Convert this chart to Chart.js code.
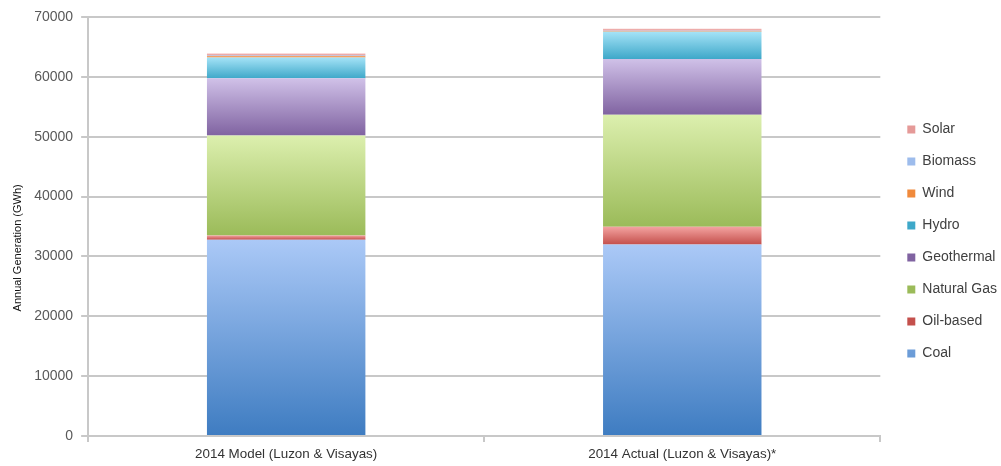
<!DOCTYPE html>
<html>
<head>
<meta charset="utf-8">
<script src="https://cdn.jsdelivr.net/npm/chart.js"></script>
<style>
  html, body { margin: 0; padding: 0; background: #fff; }
  #wrap { width: 1001px; height: 466px; }
</style>
</head>
<body>
<div id="wrap"><canvas id="chart" width="1001" height="466"></canvas></div>
<script>
const categories = ['2014 Model (Luzon & Visayas)', '2014 Actual (Luzon & Visayas)*'];
const coal = [32800, 32000];
const oilBased = [700, 2950];
const naturalGas = [16700, 18700];
const geothermal = [9550, 9350];
const hydro = [3500, 4550];
const wind = [250, 50];
const biomass = [50, 100];
const solar = [350, 350];
const yTicks = [0, 10000, 20000, 30000, 40000, 50000, 60000, 70000];

// top colour, bottom colour of each segment gradient
const shades = {
  Coal: ['#abc9f7', '#3e7cc1'],
  'Oil-based': ['#f4a3a1', '#c4504c'],
  'Natural Gas': ['#dcefae', '#9bbb59'],
  Geothermal: ['#d0c1e8', '#8063a1'],
  Hydro: ['#a5e3f7', '#3ea8c9'],
  Wind: ['#f9b07a', '#f08a3c'],
  Biomass: ['#b9d2f5', '#9dbcec'],
  Solar: ['#f3b9b7', '#e59a98'],
};

function gradientFill(name) {
  const [light, dark] = shades[name];
  return (ctx) => {
    const chart = ctx.chart;
    if (ctx.type !== 'data' || !chart.chartArea || !chart.scales.y) return dark;
    const sets = chart.data.datasets;
    let base = 0;
    for (let d = 0; d < ctx.datasetIndex; d++) base += sets[d].data[ctx.dataIndex] || 0;
    const top = base + (sets[ctx.datasetIndex].data[ctx.dataIndex] || 0);
    const y0 = chart.scales.y.getPixelForValue(top);
    const y1 = chart.scales.y.getPixelForValue(base);
    if (!isFinite(y0) || !isFinite(y1) || y1 - y0 < 0.5) return dark;
    const g = chart.ctx.createLinearGradient(0, y0, 0, y1);
    g.addColorStop(0, light);
    g.addColorStop(1, dark);
    return g;
  };
}

function series(label, data) {
  return {
    label,
    data,
    backgroundColor: gradientFill(label),
    borderWidth: 0,
    barPercentage: 0.4,
    categoryPercentage: 1,
  };
}

// leave a wider gap between the plot and the legend, like the original
const legendGap = {
  id: 'legendGap',
  beforeInit(chart) {
    const legend = chart.legend;
    const fit = legend.fit;
    legend.fit = function () {
      fit.call(this);
      this.width += 3;
    };
  },
  afterLayout(chart) {
    chart.legend.left += 9;
  },
};

new Chart(document.getElementById('chart'), {
  type: 'bar',
  data: {
    labels: categories,
    datasets: [
      series('Coal', coal),
      series('Oil-based', oilBased),
      series('Natural Gas', naturalGas),
      series('Geothermal', geothermal),
      series('Hydro', hydro),
      series('Wind', wind),
      series('Biomass', biomass),
      series('Solar', solar),
    ],
  },
  plugins: [legendGap],
  options: {
    responsive: false,
    animation: false,
    layout: { padding: { top: 17, right: 0, left: 7, bottom: 0 } },
    plugins: {
      tooltip: { enabled: false },
      legend: {
        position: 'right',
        reverse: true,
        labels: {
          boxWidth: 8,
          boxHeight: 8,
          padding: 18,
          color: '#404040',
          font: { family: 'Liberation Sans', size: 14 },
        },
      },
    },
    scales: {
      x: {
        stacked: true,
        offset: true,
        grid: {
          offset: true,
          drawOnChartArea: false,
          drawTicks: true,
          tickLength: 6,
          color: '#c8c8c8',
          lineWidth: 2,
        },
        border: { color: '#c8c8c8', width: 2 },
        ticks: {
          color: '#333',
          padding: 4,
          font: { family: 'Liberation Sans', size: 13.4 },
        },
      },
      y: {
        stacked: true,
        min: 0,
        max: 70000,
        afterBuildTicks: (axis) => { axis.ticks = yTicks.map((v) => ({ value: v })); },
        grid: { color: '#c8c8c8', lineWidth: 2, tickLength: 7 },
        border: { color: '#c8c8c8', width: 2 },
        ticks: {
          color: '#595959',
          padding: 8,
          font: { family: 'Liberation Sans', size: 14 },
          callback: (v) => String(v),
        },
        title: {
          display: true,
          text: 'Annual Generation (GWh)\u00a0\u00a0\u00a0\u00a0\u00a0\u00a0\u00a0\u00a0\u00a0\u00a0\u00a0\u00a0\u00a0\u00a0',
          color: '#111',
          padding: { top: 4, bottom: 2 },
          font: { family: 'Liberation Sans', size: 11 },
        },
      },
    },
  },
});
</script>
</body>
</html>
